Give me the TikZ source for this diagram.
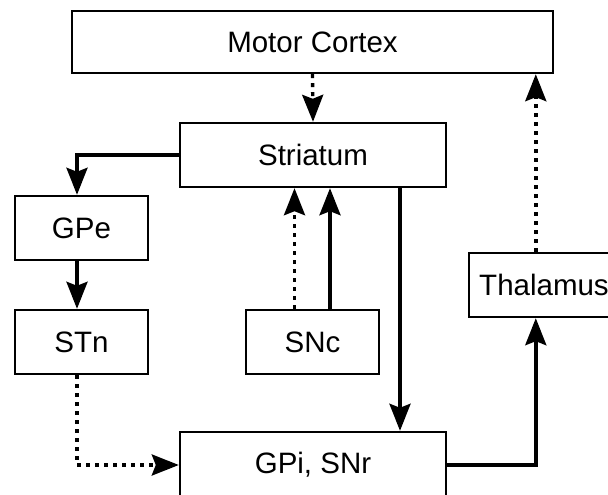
\documentclass[tikz,border=0pt]{standalone}
\usepackage{fontspec}
\setmainfont{Liberation Sans}
\usetikzlibrary{arrows.meta,calc}
\tikzset{
  box/.style={draw=black, line width=2.4pt, fill=white, inner sep=0pt,
    font=\fontsize{29.5}{32}\selectfont, text=black},
  conn/.style={line width=3.4pt, line cap=butt, line join=miter,
    -{Stealth[length=27pt, width=21pt, inset=4pt]}},
  dotconn/.style={conn, dash pattern=on 4pt off 5pt},
}
\begin{document}
\begin{tikzpicture}[x=1pt, y=-1pt]
\clip (0,0) rectangle (608,495);
\fill[white] (0,0) rectangle (608,495);
\node[box, minimum width=481pt, minimum height=62pt] (motor) at (312.5,42) {Motor Cortex};
\node[box, minimum width=266pt, minimum height=64pt] (str) at (313,155) {Striatum};
\node[box, minimum width=133pt, minimum height=64pt] (gpe) at (81.5,228) {GPe};
\node[box, minimum width=133pt, minimum height=64pt] (stn) at (81.5,342) {STn};
\node[box, minimum width=133pt, minimum height=64pt] (snc) at (312.5,342) {SNc};
\node[box, minimum width=150pt, minimum height=64pt] (thal) at (544,285) {Thalamus};
\node[box, minimum width=266pt, minimum height=66pt] (gpi) at (313,465) {GPi, SNr};
% helper columns
\coordinate (gpecol) at ($(gpe.north)+(-4.5,0)$);
\coordinate (stncol) at ($(stn.south)+(-4.5,0)$);
\coordinate (thcol) at ($(thal.south west)+(68,0)$);
\coordinate (thcoltop) at ($(thal.north west)+(68,0)$);
\coordinate (sncl) at ($(snc.north)+(-18,0)$);
\coordinate (sncr) at ($(snc.north)+(17.5,0)$);
\coordinate (strgpi) at ($(gpi.north)+(87,0)$);
% connectors
\draw[dotconn] (motor.south) -- (str.north);
\draw[conn] (str.west) -| (gpecol);
\draw[conn] (gpe.south -| gpecol) -- (stn.north -| gpecol);
\draw[dotconn] (stncol) |- (gpi.west);
\draw[dotconn] (sncl) -- (sncl |- str.south);
\draw[conn] (sncr) -- (sncr |- str.south);
\draw[conn] (strgpi |- str.south) -- (strgpi);
\draw[conn] (gpi.east) -| (thcol);
\draw[dotconn] (thcoltop) -- (thcoltop |- motor.south);
\end{tikzpicture}
\end{document}
